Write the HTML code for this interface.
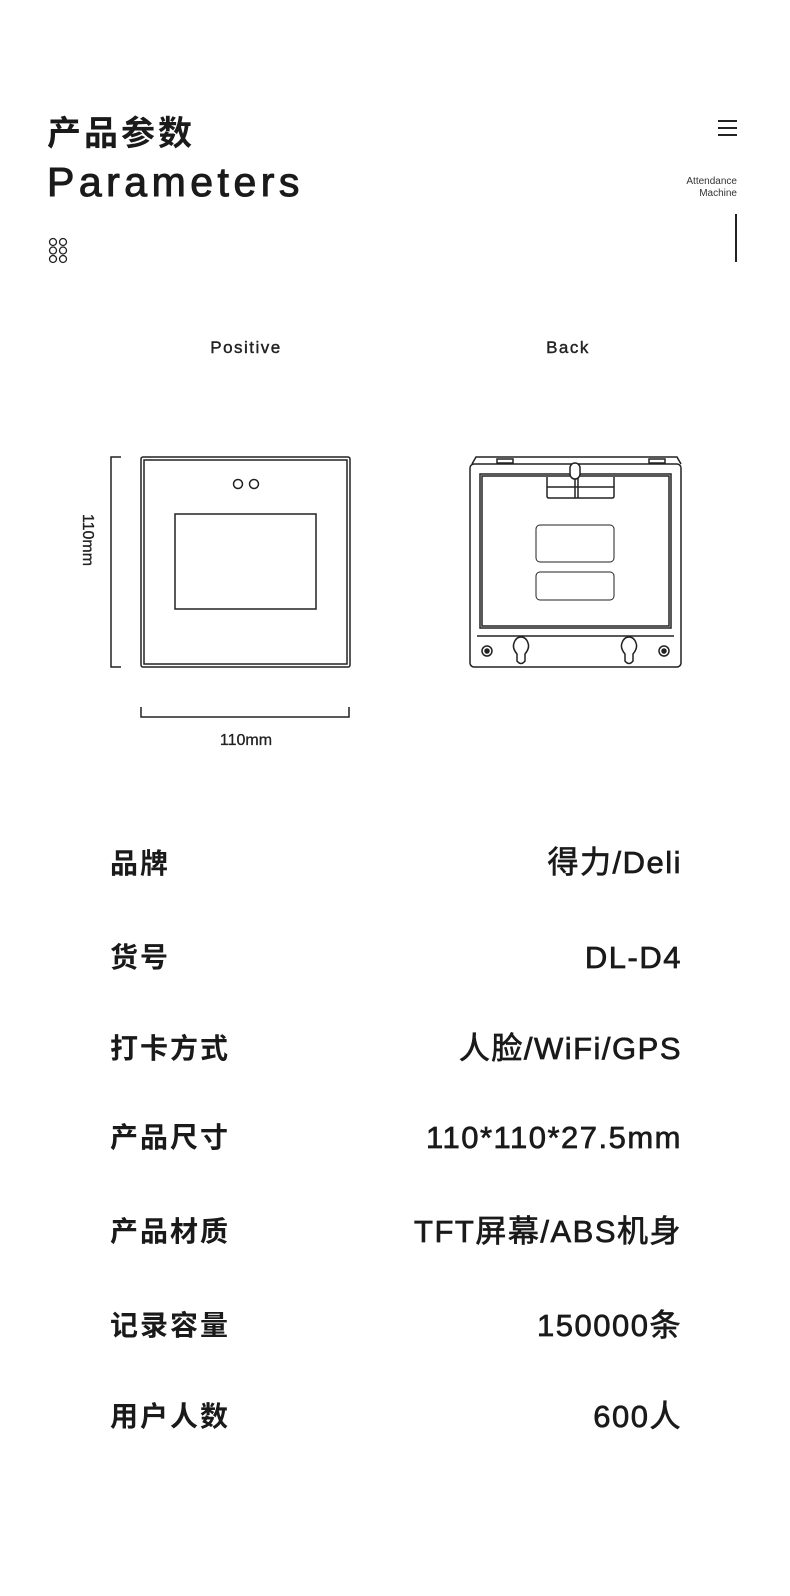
<!DOCTYPE html>
<html><head><meta charset="utf-8"><style>
body{margin:0;width:790px;height:1596px;background:#fff;position:relative;overflow:hidden;font-family:"Liberation Sans","Noto Sans CJK SC",sans-serif;color:#1a1a1a}
.a{position:absolute;white-space:nowrap}
.lab{left:110px;font-size:28px;font-weight:bold;letter-spacing:2px;line-height:34px}
.val{right:108px;font-size:31px;letter-spacing:1.5px;line-height:36px;text-align:right;-webkit-text-stroke:0.7px #1a1a1a}
</style></head><body>
<div class="a" style="left:47px;top:113px;font-size:34px;font-weight:bold;letter-spacing:3px;line-height:42px">产品参数</div>
<div class="a" style="left:47px;top:158px;font-size:41px;letter-spacing:4.5px;line-height:48px;-webkit-text-stroke:1px #1a1a1a">Parameters</div>
<svg class="a" style="left:0;top:0" width="790" height="800">
<g fill="none" stroke="#222" stroke-width="1.3">
<circle cx="53" cy="242" r="3.5"/><circle cx="63" cy="242" r="3.5"/>
<circle cx="53" cy="250.5" r="3.5"/><circle cx="63" cy="250.5" r="3.5"/>
<circle cx="53" cy="259" r="3.5"/><circle cx="63" cy="259" r="3.5"/>
</g>
<g stroke="#222" stroke-width="2"><line x1="718" y1="121" x2="737" y2="121"/><line x1="718" y1="128" x2="737" y2="128"/><line x1="718" y1="135" x2="737" y2="135"/>
<line x1="736" y1="214" x2="736" y2="262"/></g>
<text x="737" y="184" font-size="10" text-anchor="end" fill="#333" font-family="Liberation Sans">Attendance</text>
<text x="737" y="196" font-size="10" text-anchor="end" fill="#333" font-family="Liberation Sans">Machine</text>
<g fill="none" stroke="#222" stroke-width="1.5">
<rect x="141" y="457" width="209" height="210" rx="2"/>
<rect x="144" y="460" width="203" height="204"/>
<rect x="175" y="514" width="141" height="95"/>
<circle cx="238" cy="484" r="4.5"/><circle cx="254" cy="484" r="4.5"/>
<polyline points="121,457 111,457 111,667 121,667"/>
<polyline points="141,707 141,717 349,717 349,707"/>
<rect x="470" y="464" width="211" height="203" rx="4"/>
<path d="M472 464 L476 457 L677 457 L681 464"/>
<rect x="497" y="459" width="16" height="4"/><rect x="649" y="459" width="16" height="4"/>
<rect x="480" y="474" width="191" height="154"/>
<rect x="482" y="476" width="187" height="150"/>
<path d="M477 636 L674 636"/>
<path d="M547 477 L547 496 Q547 498 549 498 L612 498 Q614 498 614 496 L614 477"/>
<path d="M547 487 L614 487 M575 472 L575 498 M578 472 L578 498"/>
<rect x="570" y="463" width="10" height="16" rx="5" fill="#fff"/>
<rect x="536" y="525" width="78" height="37" rx="4" stroke-width="1"/>
<rect x="536" y="572" width="78" height="28" rx="4" stroke-width="1"/>
<circle cx="487" cy="651" r="5"/><circle cx="487" cy="651" r="2" fill="#222"/>
<circle cx="664" cy="651" r="5"/><circle cx="664" cy="651" r="2" fill="#222"/>
<path d="M517 654 Q512 648 514 643 Q516 637 521 637 Q526 637 528 643 Q530 648 525 654 L525 661 Q521 666 517 661 Z"/>
<path d="M625 654 Q620 648 622 643 Q624 637 629 637 Q634 637 636 643 Q638 648 633 654 L633 661 Q629 666 625 661 Z"/>
</g>
<text x="246" y="353" font-size="17" text-anchor="middle" letter-spacing="1.5" fill="#222" font-family="Liberation Sans" stroke="#222" stroke-width="0.4">Positive</text>
<text x="568" y="353" font-size="17" text-anchor="middle" letter-spacing="1.5" fill="#222" font-family="Liberation Sans" stroke="#222" stroke-width="0.4">Back</text>
<text x="246" y="745" font-size="16" text-anchor="middle" fill="#222" font-family="Liberation Sans" stroke="#222" stroke-width="0.3">110mm</text>
<text transform="translate(83,540) rotate(90)" font-size="16" text-anchor="middle" fill="#222" font-family="Liberation Sans" stroke="#222" stroke-width="0.3">110mm</text>
</svg>
<div class="a lab" style="top:847px">品牌</div><div class="a val" style="top:845px">得力/Deli</div>
<div class="a lab" style="top:941px">货号</div><div class="a val" style="top:940px">DL-D4</div>
<div class="a lab" style="top:1032px">打卡方式</div><div class="a val" style="top:1031px">人脸/WiFi/GPS</div>
<div class="a lab" style="top:1121px">产品尺寸</div><div class="a val" style="top:1120px">110*110*27.5mm</div>
<div class="a lab" style="top:1215px">产品材质</div><div class="a val" style="top:1214px">TFT屏幕/ABS机身</div>
<div class="a lab" style="top:1309px">记录容量</div><div class="a val" style="top:1308px">150000条</div>
<div class="a lab" style="top:1400px">用户人数</div><div class="a val" style="top:1399px">600人</div>
</body></html>
